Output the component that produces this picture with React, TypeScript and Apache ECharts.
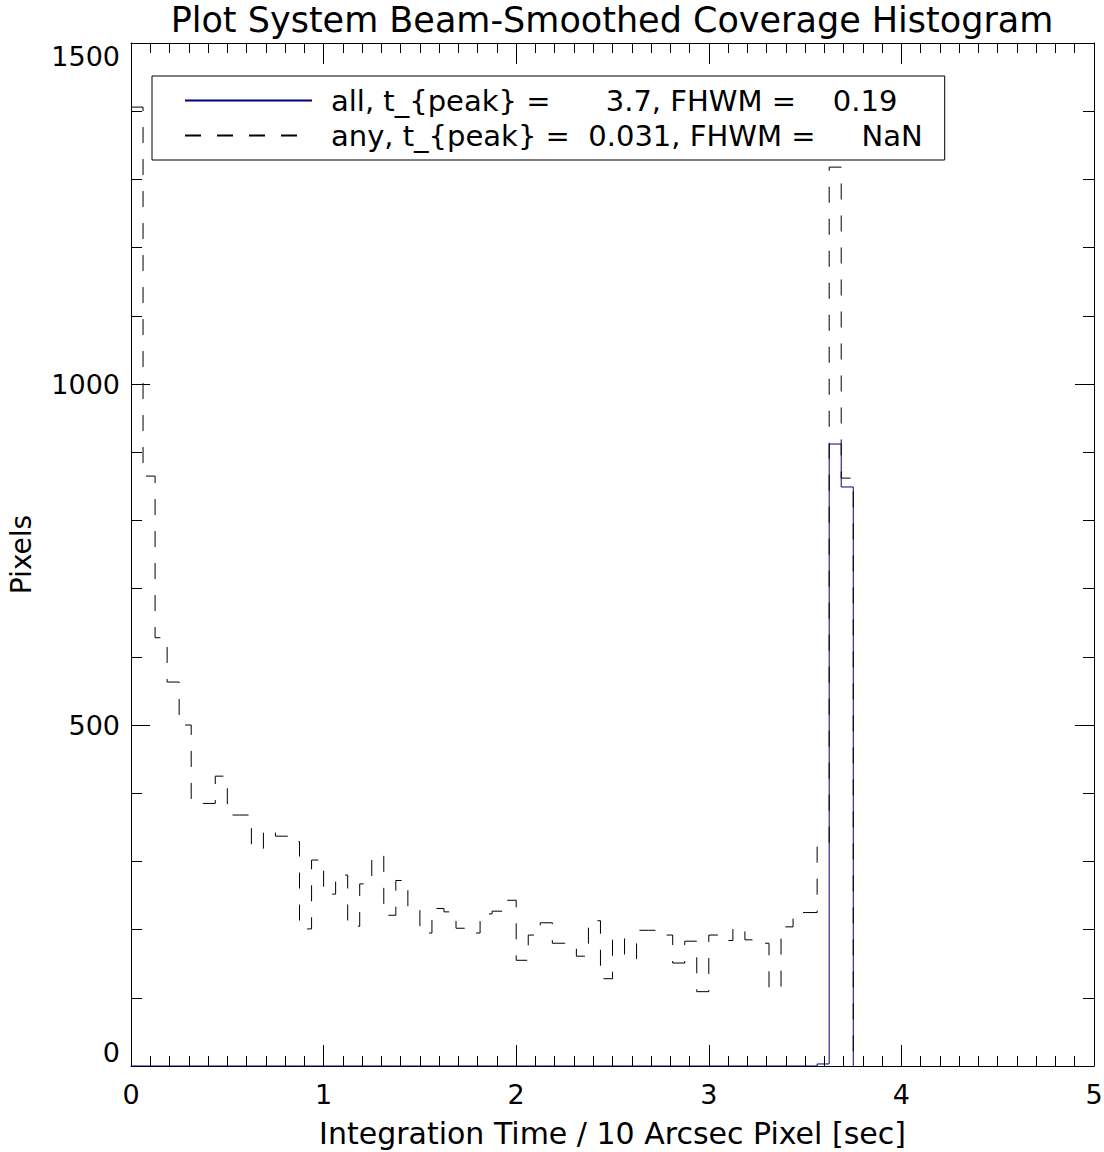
import React, { useEffect, useRef } from "react";
import * as echarts from "echarts";

const chartTitle = "Plot System Beam-Smoothed Coverage Histogram";
const xAxisTitle = "Integration Time / 10 Arcsec Pixel [sec]";
const yAxisTitle = "Pixels";
const seriesAllName = "all, t_{peak} =      3.7, FHWM =    0.19";
const seriesAnyName = "any, t_{peak} =  0.031, FHWM =     NaN";

const xRange = [0, 5];
const yRange = [0, 1500];
const binWidth = 0.0625;

// "any" histogram counts, one per bin of width binWidth starting at 0
const anyCounts = [
  1406, 865, 628, 563, 500, 391, 385, 425, 368, 368,
  319, 345, 337, 329, 201, 302, 252, 280, 205, 267,
  308, 221, 272, 229, 195, 231, 226, 202, 195, 223,
  227, 243, 155, 192, 210, 180, 179, 161, 213, 128,
  189, 157, 199, 199, 192, 151, 183, 109, 192, 184,
  202, 185, 180, 113, 204, 225, 225, 328, 1318, 862,
];

// "all" histogram counts, same bins
const allCounts = [
  0, 0, 0, 0, 0, 0, 0, 0, 0, 0,
  0, 0, 0, 0, 0, 0, 0, 0, 0, 0,
  0, 0, 0, 0, 0, 0, 0, 0, 0, 0,
  0, 0, 0, 0, 0, 0, 0, 0, 0, 0,
  0, 0, 0, 0, 0, 0, 0, 0, 0, 0,
  0, 0, 0, 0, 0, 0, 0, 3, 912, 849,
];

function toSteps(counts: number[]): number[][] {
  const pts = counts.map((v, i) => [i * binWidth, v]);
  pts.push([counts.length * binWidth, 0]);
  return pts;
}

const FONT = "'DejaVu Sans', sans-serif";

export default function App() {
  const ref = useRef<HTMLDivElement>(null);

  useEffect(() => {
    if (!ref.current) return;
    const chart = echarts.init(ref.current, undefined, { renderer: "svg" });

    const lineBlack = { color: "#000", width: 1 };
    const xTicks = {
      axisTick: { show: true, inside: true, length: 21, lineStyle: lineBlack },
      minorTick: { show: true, splitNumber: 10, length: 10, lineStyle: lineBlack },
    };
    const yTicks = {
      axisTick: { show: true, inside: true, length: 19, lineStyle: lineBlack },
      minorTick: { show: true, splitNumber: 5, length: 11, lineStyle: lineBlack },
    };
    const plain = (v: number) => String(v);

    chart.setOption({
      animation: false,
      backgroundColor: "#fff",
      title: {
        text: chartTitle,
        left: 612,
        top: 2,
        padding: 0,
        textAlign: "center",
        textStyle: { fontSize: 35, lineHeight: 36, fontWeight: "normal", fontFamily: FONT, color: "#000" },
      },
      legend: {
        show: true,
        orient: "vertical",
        left: 152,
        top: 76,
        borderColor: "#000",
        borderWidth: 1,
        padding: [8, 22, 8, 32],
        itemWidth: 127,
        itemHeight: 14,
        itemGap: 2,
        selectedMode: false,
        itemStyle: { opacity: 0 },
        textStyle: { fontSize: 29, fontFamily: FONT, color: "#000", lineHeight: 33, padding: [0, 0, 0, 14] },
        data: [{ name: seriesAllName }, { name: seriesAnyName }],
      },
      grid: { left: 131, right: 10, top: 43, bottom: 86, containLabel: false, outerBoundsMode: "none" },
      xAxis: [
        {
          type: "value",
          position: "bottom",
          min: xRange[0],
          max: xRange[1],
          interval: 1,
          axisLine: { show: true, onZero: false, lineStyle: lineBlack },
          splitLine: { show: false },
          ...xTicks,
          axisLabel: { color: "#000", fontSize: 27, fontFamily: FONT, margin: 15, formatter: plain },
          name: xAxisTitle,
          nameLocation: "middle",
          nameGap: 52,
          nameTextStyle: { color: "#000", fontSize: 30, fontFamily: FONT },
        },
        {
          type: "value",
          position: "top",
          min: xRange[0],
          max: xRange[1],
          interval: 1,
          axisLine: { show: true, onZero: false, lineStyle: lineBlack },
          splitLine: { show: false },
          ...xTicks,
          axisLabel: { show: false },
        },
      ],
      yAxis: [
        {
          type: "value",
          position: "left",
          min: yRange[0],
          max: yRange[1],
          interval: 500,
          axisLine: { show: true, onZero: false, lineStyle: lineBlack },
          splitLine: { show: false },
          ...yTicks,
          axisLabel: {
            color: "#000",
            fontSize: 27,
            fontFamily: FONT,
            margin: 11,
            formatter: plain,
            verticalAlignMinLabel: "bottom",
            verticalAlignMaxLabel: "top",
          },
          name: yAxisTitle,
          nameLocation: "middle",
          nameGap: 96,
          nameTextStyle: { color: "#000", fontSize: 28, fontFamily: FONT },
        },
        {
          type: "value",
          position: "right",
          min: yRange[0],
          max: yRange[1],
          interval: 500,
          axisLine: { show: true, onZero: false, lineStyle: lineBlack },
          splitLine: { show: false },
          ...yTicks,
          axisLabel: { show: false },
        },
      ],
      series: [
        {
          type: "line",
          name: seriesAllName,
          xAxisIndex: 0,
          yAxisIndex: 0,
          data: toSteps(allCounts),
          step: "end",
          symbol: "none",
          lineStyle: { color: "#000080", width: 1 },
          itemStyle: { color: "#000080" },
          z: 3,
        },
        {
          type: "line",
          name: seriesAnyName,
          xAxisIndex: 0,
          yAxisIndex: 0,
          data: toSteps(anyCounts),
          step: "end",
          symbol: "none",
          lineStyle: { color: "#000", width: 1, type: [16, 16] },
          itemStyle: { color: "#000" },
          z: 4,
        },
      ],
    });

    return () => chart.dispose();
  }, []);

  return (
    <div
      ref={ref}
      style={{ position: "absolute", left: 0, top: 0, width: 1104, height: 1152, background: "#fff" }}
    />
  );
}
